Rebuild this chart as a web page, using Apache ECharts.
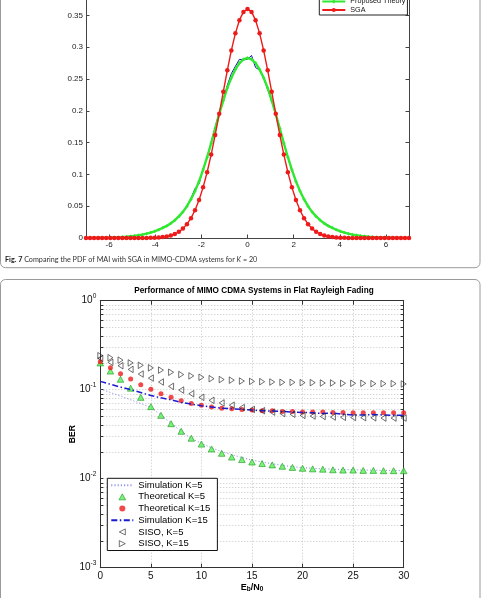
<!DOCTYPE html>
<html>
<head>
<meta charset="utf-8">
<script src="https://cdn.jsdelivr.net/npm/echarts@6/dist/echarts.min.js"></script>
<style>
html, body { margin: 0; padding: 0; background: #fff; }
#main { width: 482px; height: 598px; }
</style>
</head>
<body>
<div id="main"></div>
<script>
// ---- Fig. 7: PDF of MAI vs SGA (K = 20) ----
const pdfX = [
  -7, -6.825, -6.65, -6.475, -6.3, -6.125, -5.95, -5.775, -5.6, -5.425,
  -5.25, -5.075, -4.9, -4.725, -4.55, -4.375, -4.2, -4.025, -3.85, -3.675,
  -3.5, -3.325, -3.15, -2.975, -2.8, -2.625, -2.45, -2.275, -2.1, -1.925,
  -1.75, -1.575, -1.4, -1.225, -1.05, -0.875, -0.7, -0.525, -0.35, -0.175,
  0,
  0.175, 0.35, 0.525, 0.7, 0.875, 1.05, 1.225, 1.4, 1.575, 1.75,
  1.925, 2.1, 2.275, 2.45, 2.625, 2.8, 2.975, 3.15, 3.325, 3.5,
  3.675, 3.85, 4.025, 4.2, 4.375, 4.55, 4.725, 4.9, 5.075, 5.25,
  5.425, 5.6, 5.775, 5.95, 6.125, 6.3, 6.475, 6.65, 6.825, 7
]
const pdfSim = [
  0.0000, 0.0001, 0.0002, 0.0003, 0.0004, 0.0005, 0.0006, 0.0009, 0.0012, 0.0016,
  0.0020, 0.0027, 0.0035, 0.0042, 0.0055, 0.0066, 0.0086, 0.0108, 0.0128, 0.0158,
  0.0192, 0.0226, 0.0284, 0.0345, 0.0405, 0.0495, 0.0625, 0.0775, 0.0855, 0.1085,
  0.1265, 0.1505, 0.1745, 0.1975, 0.2180, 0.2400, 0.2585, 0.2700, 0.2810, 0.2800,
  0.2810,
  0.2870, 0.2680, 0.2640, 0.2510, 0.2340, 0.2150, 0.1955, 0.1720, 0.1500, 0.1265,
  0.1060, 0.0900, 0.0735, 0.0600, 0.0495, 0.0405, 0.0335, 0.0272, 0.0240, 0.0200,
  0.0158, 0.0130, 0.0103, 0.0085, 0.0067, 0.0053, 0.0044, 0.0034, 0.0026, 0.0021,
  0.0016, 0.0012, 0.0009, 0.0007, 0.0005, 0.0004, 0.0003, 0.0002, 0.0001, 0.0000
]
const pdfTheory = [
  0.0001, 0.0001, 0.0002, 0.0003, 0.0004, 0.0005, 0.0007, 0.0009, 0.0012, 0.0016,
  0.0021, 0.0027, 0.0034, 0.0043, 0.0054, 0.0068, 0.0085, 0.0105, 0.0130, 0.0160,
  0.0190, 0.0230, 0.0280, 0.0340, 0.0410, 0.0500, 0.0610, 0.0740, 0.0890, 0.1070,
  0.1270, 0.1490, 0.1720, 0.1950, 0.2160, 0.2360, 0.2520, 0.2650, 0.2750, 0.2810,
  0.2830,
  0.2810, 0.2750, 0.2650, 0.2520, 0.2360, 0.2160, 0.1950, 0.1720, 0.1490, 0.1270,
  0.1070, 0.0890, 0.0740, 0.0610, 0.0500, 0.0410, 0.0340, 0.0280, 0.0230, 0.0190,
  0.0160, 0.0130, 0.0105, 0.0085, 0.0068, 0.0054, 0.0043, 0.0034, 0.0027, 0.0021,
  0.0016, 0.0012, 0.0009, 0.0007, 0.0005, 0.0004, 0.0003, 0.0002, 0.0001, 0.0001
]
const pdfSga = [
  0, 0, 0, 0, 0, 0, 0, 0, 0, 0,
  0, 0, 0, 0, 0, 0.0001, 0.0003, 0.0005, 0.0009, 0.0015,
  0.0025, 0.0040, 0.0063, 0.0098, 0.0148, 0.0218, 0.0312, 0.0437, 0.0597, 0.0796,
  0.1034, 0.1311, 0.1620, 0.1954, 0.2298, 0.2636, 0.2949, 0.3218, 0.3425, 0.3555,
  0.3600,
  0.3555, 0.3425, 0.3218, 0.2949, 0.2636, 0.2298, 0.1954, 0.1620, 0.1311, 0.1034,
  0.0796, 0.0597, 0.0437, 0.0312, 0.0218, 0.0148, 0.0098, 0.0063, 0.0040, 0.0025,
  0.0015, 0.0009, 0.0005, 0.0003, 0.0001, 0, 0, 0, 0, 0,
  0, 0, 0, 0, 0, 0, 0, 0, 0, 0
]
const pdfXTicks = [-6, -4, -2, 0, 2, 4, 6]

// ---- BER of MIMO CDMA in flat Rayleigh fading ----
const ebN0 = [0, 1, 2, 3, 4, 5, 6, 7, 8, 9, 10, 11, 12, 13, 14, 15, 16, 17, 18, 19, 20, 21, 22, 23, 24, 25, 26, 27, 28, 29, 30]
const simK5 = [0.102, 0.093, 0.085, 0.077, 0.070, 0.063, 0.052, 0.042, 0.034, 0.0285, 0.025, 0.0222, 0.0202, 0.0186, 0.0173, 0.0162, 0.0154, 0.0147, 0.0141, 0.0137, 0.0133, 0.0131, 0.0129, 0.0128, 0.0127, 0.0126, 0.0125, 0.0125, 0.0124, 0.0124, 0.0123]
const theoK5 = [0.200, 0.162, 0.131, 0.104, 0.082, 0.0645, 0.0515, 0.0415, 0.0341, 0.0285, 0.0245, 0.0216, 0.0193, 0.0175, 0.0164, 0.0154, 0.0148, 0.0143, 0.0138, 0.0134, 0.0131, 0.0129, 0.0128, 0.0126, 0.0125, 0.0125, 0.0124, 0.0124, 0.0123, 0.0123, 0.0123]
const theoK15 = [0.206, 0.177, 0.151, 0.132, 0.114, 0.101, 0.090, 0.082, 0.075, 0.070, 0.067, 0.064, 0.062, 0.061, 0.060, 0.059, 0.058, 0.058, 0.057, 0.057, 0.056, 0.056, 0.056, 0.0555, 0.0555, 0.055, 0.055, 0.055, 0.055, 0.055, 0.055]
const simK15 = [0.124, 0.115, 0.107, 0.100, 0.093, 0.086, 0.081, 0.077, 0.072, 0.069, 0.066, 0.064, 0.062, 0.061, 0.060, 0.059, 0.058, 0.0575, 0.057, 0.056, 0.0555, 0.055, 0.054, 0.0545, 0.053, 0.052, 0.052, 0.0525, 0.052, 0.0515, 0.0515]
const sisoK5 = [0.225, 0.203, 0.186, 0.169, 0.150, 0.135, 0.122, 0.109, 0.099, 0.090, 0.082, 0.076, 0.071, 0.067, 0.063, 0.060, 0.058, 0.056, 0.054, 0.053, 0.0515, 0.0506, 0.050, 0.0493, 0.049, 0.0487, 0.0485, 0.0483, 0.048, 0.048, 0.048]
const sisoK15 = [0.241, 0.229, 0.215, 0.200, 0.188, 0.176, 0.166, 0.157, 0.148, 0.143, 0.138, 0.133, 0.130, 0.128, 0.125, 0.124, 0.123, 0.122, 0.121, 0.121, 0.120, 0.120, 0.119, 0.119, 0.118, 0.118, 0.118, 0.117, 0.117, 0.117, 0.116]
const berTicks = [
  0.001, 0.002, 0.003, 0.004, 0.005, 0.006, 0.007, 0.008, 0.009,
  0.01, 0.02, 0.03, 0.04, 0.05, 0.06, 0.07, 0.08, 0.09,
  0.1, 0.2, 0.3, 0.4, 0.5, 0.6, 0.7, 0.8, 0.9, 1
]
const berLabels = [0.001, 0.01, 0.1, 1]

const FONT = 'Liberation Sans'
const TRI_UP = 'path://M5,0 L10,9 L0,9 Z'
const TRI_LEFT = 'path://M10,0 L0,5 L10,10 Z'
const TRI_RIGHT = 'path://M0,0 L10,5 L0,10 Z'

const pairs = (xs, ys) => xs.map((x, i) => [x, ys[i]])
// line-only legend entries: hide the dot that echarts puts in the middle
const lineOnly = name => ({ name: name, itemStyle: { opacity: 0 } })
const hollowStyle = { color: 'rgba(0,0,0,0)', borderColor: '#222', borderWidth: 0.8 }
const greenTriStyle = { color: '#5cee5c', borderColor: '#1c9c1c', borderWidth: 0.8 }

const chart = echarts.init(document.getElementById('main'))

const dotted = { show: true, lineStyle: { color: '#b8b8b8', width: 0.8, type: [1, 2] } }

chart.setOption({
  animation: false,
  backgroundColor: '#fff',
  textStyle: { fontFamily: FONT },
  grid: [
    { left: 86, right: 73, top: -16.4, bottom: 360, outerBoundsMode: 'none' },
    { left: 100.3, right: 78.3, top: 300.7, bottom: 30.3, outerBoundsMode: 'none' }
  ],
  xAxis: [
    {
      gridIndex: 0, type: 'value', min: -7, max: 7,
      axisLine: { onZero: false, lineStyle: { color: '#444', width: 1 } },
      axisTick: { inside: true, length: 3.5, customValues: pdfXTicks, lineStyle: { color: '#444' } },
      axisLabel: { customValues: pdfXTicks, fontSize: 8, color: '#222', margin: 3 },
      splitLine: { show: false }
    },
    {
      gridIndex: 1, type: 'value', min: 0, max: 30, interval: 5,
      name: 'E{s|b}/N{s|0}', nameLocation: 'middle', nameGap: 13,
      nameTextStyle: { fontSize: 9, fontWeight: 'bold', color: '#000',
        rich: { s: { fontSize: 6.5, fontWeight: 'bold', padding: [5, 0, 0, 0] } } },
      axisLine: { onZero: false, lineStyle: { color: '#333', width: 1 } },
      axisTick: { inside: true, length: 4, lineStyle: { color: '#333' } },
      axisLabel: { fontSize: 10, color: '#111', margin: 4 },
      splitLine: dotted
    },
    {
      gridIndex: 1, type: 'value', min: 0, max: 30, interval: 5, position: 'top',
      axisLine: { onZero: false, lineStyle: { color: '#333', width: 1 } },
      axisTick: { inside: true, length: 4, lineStyle: { color: '#333' } },
      axisLabel: { show: false },
      splitLine: { show: false }
    }
  ],
  yAxis: [
    {
      gridIndex: 0, type: 'value', min: 0, max: 0.4, interval: 0.05,
      axisLine: { show: true, onZero: false, lineStyle: { color: '#444', width: 1 } },
      axisTick: { show: true, inside: true, length: 3.5, lineStyle: { color: '#444' } },
      axisLabel: { fontSize: 8, color: '#222', margin: 3 },
      splitLine: { show: false }
    },
    {
      gridIndex: 0, type: 'value', min: 0, max: 0.4, interval: 0.05, position: 'right',
      axisLine: { show: true, onZero: false, lineStyle: { color: '#444', width: 1 } },
      axisTick: { show: true, inside: true, length: 3.5, lineStyle: { color: '#444' } },
      axisLabel: { show: false },
      splitLine: { show: false }
    },
    {
      gridIndex: 1, type: 'log', logBase: 10, min: 0.001, max: 1,
      name: 'BER', nameLocation: 'middle', nameGap: 23, nameMoveOverlap: false,
      nameTextStyle: { fontSize: 8.5, fontWeight: 'bold', color: '#000' },
      axisLine: { show: true, onZero: false, lineStyle: { color: '#333', width: 1 } },
      axisTick: { show: true, inside: true, length: 3, customValues: berTicks, lineStyle: { color: '#333' } },
      axisLabel: {
        customValues: berLabels, fontSize: 10, color: '#111', margin: 4,
        formatter: v => '10{e|' + Math.round(Math.log10(v)) + '}',
        rich: { e: { fontSize: 6.5, padding: [0, 0, 8, 0] } }
      },
      splitLine: dotted
    },
    {
      gridIndex: 1, type: 'log', logBase: 10, min: 0.001, max: 1, position: 'right',
      axisLine: { show: true, onZero: false, lineStyle: { color: '#333', width: 1 } },
      axisTick: { show: true, inside: true, length: 3, customValues: berTicks, lineStyle: { color: '#333' } },
      axisLabel: { show: false },
      splitLine: { show: false }
    }
  ],
  legend: [
    {
      data: [lineOnly('Simulation'), 'Proposed Theory', 'SGA'],
      orient: 'vertical', left: 319.3, top: -12,
      itemWidth: 23, itemHeight: 5, itemGap: 0,
      padding: [0.75, 2, 0.75, 2],
      borderColor: '#222', borderWidth: 1, backgroundColor: '#fff',
      textStyle: { fontSize: 7.2, lineHeight: 8.5, color: '#111', fontFamily: FONT },
      selectedMode: false
    },
    {
      data: [
        lineOnly('Simulation K=5'),
        { name: 'Theoretical K=5', icon: TRI_UP, itemStyle: greenTriStyle },
        'Theoretical K=15',
        lineOnly('Simulation K=15'),
        { name: 'SISO, K=5', icon: TRI_LEFT, itemStyle: hollowStyle },
        { name: 'SISO, K=15', icon: TRI_RIGHT, itemStyle: hollowStyle }
      ],
      orient: 'vertical', left: 107.3, top: 478.3,
      itemWidth: 22, itemHeight: 6, itemGap: 0,
      padding: [1, 7, 1, 3],
      borderColor: '#111', borderWidth: 1, backgroundColor: '#fff',
      textStyle: { fontSize: 9.5, lineHeight: 11.7, color: '#000', fontFamily: FONT },
      selectedMode: false
    }
  ],
  graphic: [
    { type: 'rect', shape: { x: 0.5, y: -20, width: 479.5, height: 287.7, r: 5 },
      style: { fill: 'none', stroke: '#9a9a9a', lineWidth: 1 } },
    { type: 'rect', shape: { x: 0.5, y: 279.5, width: 479.5, height: 340, r: 5 },
      style: { fill: 'none', stroke: '#9a9a9a', lineWidth: 1 } },
    { type: 'text', x: 5, y: 260,
      style: {
        text: '{b|Fig. 7} Comparing the PDF of MAI with SGA in MIMO-CDMA systems for {i|K} = 20',
        font: '7.2px Lato', fill: '#333', verticalAlign: 'middle',
        rich: { b: { fontWeight: 'bold', fontSize: 7.2, fontFamily: 'Lato', fill: '#222' },
                i: { fontStyle: 'italic', fontSize: 7.2, fontFamily: 'Lato' } }
      } },
    { type: 'text', x: 254, y: 290.3,
      style: {
        text: 'Performance of MIMO CDMA Systems in Flat Rayleigh Fading',
        font: 'bold 8.2px "Liberation Sans"', fill: '#000', align: 'center', verticalAlign: 'middle'
      } }
  ],
  series: [
    {
      name: 'Simulation', type: 'line', xAxisIndex: 0, yAxisIndex: 0,
      data: pairs(pdfX, pdfSim), symbol: 'none',
      lineStyle: { color: '#1414a8', width: 1 }, itemStyle: { color: '#1414a8' }, z: 2
    },
    {
      name: 'Proposed Theory', type: 'line', xAxisIndex: 0, yAxisIndex: 0,
      data: pairs(pdfX, pdfTheory), symbol: 'diamond', symbolSize: 3.5,
      lineStyle: { color: '#30e830', width: 2.4 }, itemStyle: { color: '#30e830' }, z: 3
    },
    {
      name: 'SGA', type: 'line', xAxisIndex: 0, yAxisIndex: 0,
      data: pairs(pdfX, pdfSga), symbol: 'circle', symbolSize: 4.5,
      lineStyle: { color: '#ee1a1a', width: 1.4 }, itemStyle: { color: '#ee1a1a' }, z: 4
    },
    {
      name: 'Simulation K=5', type: 'line', xAxisIndex: 1, yAxisIndex: 2,
      data: pairs(ebN0, simK5), symbol: 'none',
      lineStyle: { color: '#8282e6', width: 1, type: [1, 2.2] }, itemStyle: { color: '#8282e6' }, z: 2
    },
    {
      name: 'Theoretical K=5', type: 'scatter', xAxisIndex: 1, yAxisIndex: 2,
      data: pairs(ebN0, theoK5), symbol: TRI_UP, symbolSize: [6.5, 6],
      itemStyle: greenTriStyle, z: 3
    },
    {
      name: 'Theoretical K=15', type: 'scatter', xAxisIndex: 1, yAxisIndex: 2,
      data: pairs(ebN0, theoK15), symbol: 'circle', symbolSize: 5,
      itemStyle: { color: '#ee1c1c' }, z: 3
    },
    {
      name: 'Simulation K=15', type: 'line', xAxisIndex: 1, yAxisIndex: 2,
      data: pairs(ebN0, simK15), symbol: 'none',
      lineStyle: { color: '#1a1ad0', width: 1.5, type: [6, 2.5, 1.5, 2.5] }, itemStyle: { color: '#1a1ad0' }, z: 4
    },
    {
      name: 'SISO, K=5', type: 'scatter', xAxisIndex: 1, yAxisIndex: 2,
      data: pairs(ebN0, sisoK5), symbol: TRI_LEFT, symbolSize: [5, 6.5],
      itemStyle: hollowStyle, z: 5
    },
    {
      name: 'SISO, K=15', type: 'scatter', xAxisIndex: 1, yAxisIndex: 2,
      data: pairs(ebN0, sisoK15), symbol: TRI_RIGHT, symbolSize: [5, 6.5],
      itemStyle: hollowStyle, z: 5
    }
  ]
})
</script>
</body>
</html>
